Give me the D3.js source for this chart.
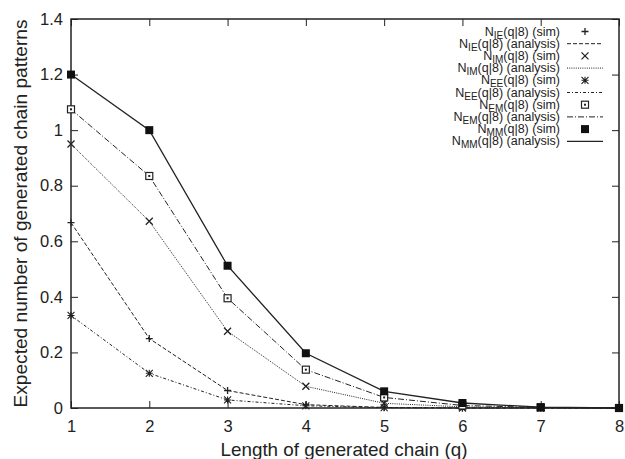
<!DOCTYPE html>
<html>
<head>
<meta charset="utf-8">
<script src="https://cdn.jsdelivr.net/npm/d3@7"></script>
<style>
  body { margin: 0; background: #fff; }
  svg { font-family: "Liberation Sans", Arial, sans-serif; }
</style>
</head>
<body>
<svg id="chart" width="625" height="459"></svg>
<script>
const qValues = [1, 2, 3, 4, 5, 6, 7, 8];
const yTicks = [0, 0.2, 0.4, 0.6, 0.8, 1, 1.2, 1.4];

// values
const nIE = [0.667, 0.25, 0.063, 0.012, 0.002, 0, 0, 0];
const nIM = [0.95, 0.672, 0.276, 0.078, 0.017, 0.004, 0.001, 0];
const nEE = [0.333, 0.125, 0.029, 0.008, 0.001, 0, 0, 0];
const nEM = [1.075, 0.835, 0.395, 0.138, 0.038, 0.009, 0.002, 0];
const nMM = [1.2, 1.0, 0.512, 0.197, 0.06, 0.018, 0.003, 0];

const series = [
  { sub: "IE", values: nIE, marker: "plus", dash: "4,2" },
  { sub: "IM", values: nIM, marker: "cross", dash: "1,1.2" },
  { sub: "EE", values: nEE, marker: "star", dash: "3,2,1,2" },
  { sub: "EM", values: nEM, marker: "square", dash: "6,2,1,2" },
  { sub: "MM", values: nMM, marker: "filled", dash: null }
];

const svg = d3.select("#chart");
const margin = { left: 71, right: 6, top: 19, bottom: 51 };
const W = 625, H = 459;

const x = d3.scaleLinear().domain([1, 8]).range([margin.left, W - margin.right]);
const y = d3.scaleLinear().domain([0, 1.4]).range([H - margin.bottom, margin.top]);

const ink = "#222";

// --- axes (inward ticks, mirrored) ---
svg.append("g")
  .attr("transform", `translate(0,${y(0)})`)
  .call(d3.axisBottom(x).tickValues(qValues).tickSize(-7).tickPadding(12).tickFormat(d3.format("d")))
  .call(g => g.select(".domain").remove());
svg.append("g")
  .attr("transform", `translate(0,${y(1.4)})`)
  .call(d3.axisTop(x).tickValues(qValues).tickSize(-7).tickFormat(""))
  .call(g => g.select(".domain").remove());
svg.append("g")
  .attr("transform", `translate(${x(1)},0)`)
  .call(d3.axisLeft(y).tickValues(yTicks).tickSize(-7).tickPadding(8).tickFormat(d => d === 0 ? "0" : d3.format("~g")(d)))
  .call(g => g.select(".domain").remove());
svg.append("g")
  .attr("transform", `translate(${x(8)},0)`)
  .call(d3.axisRight(y).tickValues(yTicks).tickSize(-7).tickFormat(""))
  .call(g => g.select(".domain").remove());

svg.selectAll(".tick line").attr("stroke", ink).attr("stroke-width", 1);
svg.selectAll(".tick text").attr("fill", ink).style("font-size", "16.5px").style("font-family", "Liberation Sans, Arial, sans-serif");

svg.append("rect")
  .attr("x", x(1)).attr("y", y(1.4))
  .attr("width", x(8) - x(1)).attr("height", y(0) - y(1.4))
  .attr("fill", "none").attr("stroke", ink).attr("stroke-width", 1.5);

// --- axis titles ---
svg.append("text")
  .attr("x", 344).attr("y", 456)
  .attr("text-anchor", "middle").attr("fill", ink)
  .attr("textLength", 247).attr("lengthAdjust", "spacingAndGlyphs")
  .style("font-size", "19px")
  .text("Length of generated chain (q)");
svg.append("text")
  .attr("transform", `translate(27,${(y(0) + y(1.4)) / 2}) rotate(-90)`)
  .attr("text-anchor", "middle").attr("fill", ink)
  .attr("textLength", 388).attr("lengthAdjust", "spacingAndGlyphs")
  .style("font-size", "18.5px")
  .text("Expected number of generated chain patterns");

// --- markers ---
function drawMarker(g, type, cx, cy) {
  const s = 3.5;
  if (type === "plus") {
    g.append("path").attr("d", `M${cx - s},${cy}H${cx + s}M${cx},${cy - s}V${cy + s}`)
      .attr("stroke", ink).attr("stroke-width", 1.3);
  } else if (type === "cross") {
    g.append("path").attr("d", `M${cx - s},${cy - s}L${cx + s},${cy + s}M${cx - s},${cy + s}L${cx + s},${cy - s}`)
      .attr("stroke", ink).attr("stroke-width", 1.3);
  } else if (type === "star") {
    g.append("path").attr("d", `M${cx - s},${cy}H${cx + s}M${cx},${cy - s}V${cy + s}M${cx - s},${cy - s}L${cx + s},${cy + s}M${cx - s},${cy + s}L${cx + s},${cy - s}`)
      .attr("stroke", ink).attr("stroke-width", 1.1);
  } else if (type === "square") {
    g.append("rect").attr("x", cx - s).attr("y", cy - s).attr("width", 2 * s).attr("height", 2 * s)
      .attr("fill", "#fff").attr("stroke", ink).attr("stroke-width", 1.2);
    g.append("rect").attr("x", cx - 1).attr("y", cy - 1).attr("width", 2).attr("height", 2).attr("fill", ink);
  } else {
    g.append("rect").attr("x", cx - s - 0.5).attr("y", cy - s - 0.5).attr("width", 2 * s + 1).attr("height", 2 * s + 1)
      .attr("fill", "#111");
  }
}

// --- lines and points ---
const line = d3.line().x((d, i) => x(qValues[i])).y(d => y(d));
const plot = svg.append("g");
series.forEach(s => {
  plot.append("path")
    .datum(s.values)
    .attr("d", line)
    .attr("fill", "none")
    .attr("stroke", ink)
    .attr("stroke-width", s.dash ? 1 : 1.3)
    .attr("stroke-dasharray", s.dash);
});
series.forEach(s => {
  const g = plot.append("g");
  s.values.forEach((v, i) => drawMarker(g, s.marker, x(qValues[i]), y(v)));
});

// --- legend ---
const legend = svg.append("g");
const rowH = 12.2, top0 = 31.5, textX = 560, sx0 = 567, sx1 = 603;
series.forEach((s, k) => {
  ["sim", "analysis"].forEach((kind, j) => {
    const ry = top0 + (2 * k + j) * rowH;
    const t = legend.append("text")
      .attr("x", textX).attr("y", ry + 4)
      .attr("text-anchor", "end").attr("fill", ink)
      .style("font-size", "12.5px");
    t.append("tspan").text("N");
    t.append("tspan").attr("dy", 3).style("font-size", "10px").text(s.sub);
    t.append("tspan").attr("dy", -3).text(`(q|8) (${kind})`);
    if (kind === "sim") {
      drawMarker(legend, s.marker, (sx0 + sx1) / 2, ry);
    } else {
      legend.append("line")
        .attr("x1", sx0).attr("x2", sx1).attr("y1", ry).attr("y2", ry)
        .attr("stroke", ink).attr("stroke-width", s.dash ? 1 : 1.3)
        .attr("stroke-dasharray", s.dash);
    }
  });
});
</script>
</body>
</html>
